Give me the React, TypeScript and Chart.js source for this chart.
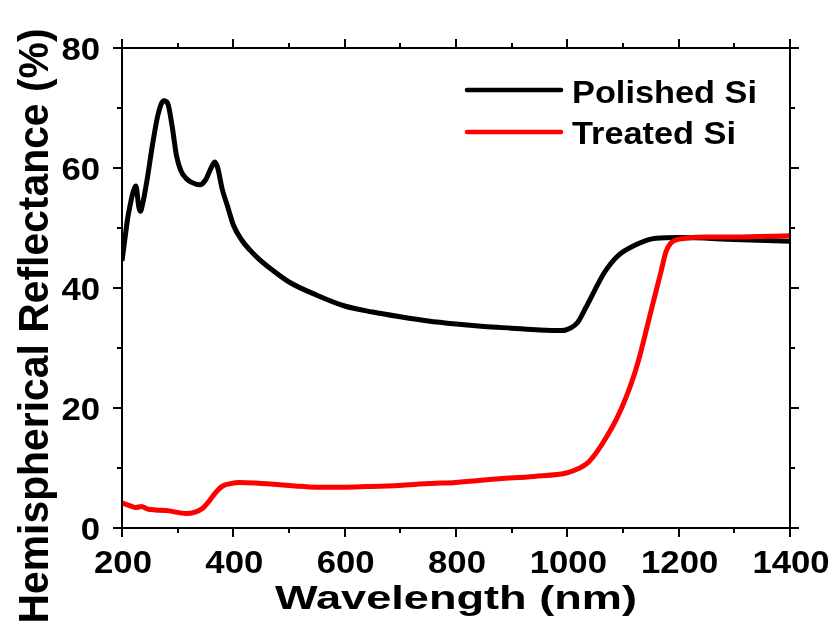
import React, { useEffect, useRef } from "react";
import { Chart, registerables } from "chart.js";

Chart.register(...registerables);

// ---- Data ----
const polishedWavelength = [
  200, 205, 210, 215, 220, 225, 230, 233, 237, 245, 255, 265, 275, 282, 290, 298,
  306, 315, 325, 340, 350, 360, 367, 372, 380, 390, 400, 415, 430, 445, 470, 500,
  550, 600, 650, 700, 750, 800, 850, 900, 950, 990, 1005, 1018, 1033, 1048, 1066,
  1090, 1123, 1159, 1200, 1300, 1400,
];
const polishedReflectance = [
  44.5, 48, 51.5, 54, 56, 57, 53.6, 52.8, 54, 58, 64, 69, 71.2, 70.8, 67, 62,
  59.5, 58.3, 57.6, 57.2, 58, 60, 61, 60, 56.5, 53.5, 50.5, 48, 46.3, 44.9, 43, 41,
  38.8, 37, 36, 35.2, 34.5, 34.0, 33.6, 33.3, 33.0, 32.9, 33.3, 34.2, 36.7, 39.4, 42.5,
  45.3, 47.2, 48.3, 48.4, 48.1, 47.8,
];

const treatedWavelength = [
  200, 215, 225, 235, 245, 260, 280, 300, 316, 330, 345, 355, 363, 372, 381, 395,
  411, 440, 471, 510, 549, 600, 639, 698, 750, 800, 878, 940, 1000, 1020, 1036, 1050,
  1064, 1088, 1106, 1121, 1133, 1145, 1157, 1169, 1177, 1185, 1195, 1213, 1250, 1300,
  1400,
];
const treatedReflectance = [
  4.2, 3.7, 3.4, 3.6, 3.2, 3.0, 2.9, 2.6, 2.4, 2.6, 3.3, 4.3, 5.3, 6.3, 7.0, 7.4,
  7.6, 7.5, 7.3, 7.0, 6.8, 6.8, 6.9, 7.1, 7.4, 7.6, 8.2, 8.6, 9.2, 9.9, 10.8, 12.3,
  14.2, 18.1, 21.9, 25.8, 29.7, 34.2, 38.6, 43.0, 46.0, 47.4, 48.0, 48.3, 48.5, 48.5,
  48.7,
];

const seriesNames = ["Polished Si", "Treated Si"];
const seriesColors = ["#000000", "#ff0000"];

const xMajorTicks = [200, 400, 600, 800, 1000, 1200, 1400];
const xMinorTicks = [300, 500, 700, 900, 1100, 1300];
const yMajorTicks = [0, 20, 40, 60, 80];
const yMinorTicks = [10, 30, 50, 70];

const xTitle = "Wavelength (nm)";
const yTitle = "Hemispherical Reflectance (%)";

const FONT = "'Liberation Sans', Arial, sans-serif";

function fillStretched(
  ctx: CanvasRenderingContext2D,
  text: string,
  x: number,
  y: number,
  align: CanvasTextAlign,
  sx: number
) {
  ctx.save();
  ctx.translate(x, y);
  ctx.scale(sx, 1);
  ctx.textAlign = align;
  ctx.fillText(text, 0, 0);
  ctx.restore();
}

const framePlugin = {
  id: "framePlugin",
  afterDraw(chart: any) {
    const ctx: CanvasRenderingContext2D = chart.ctx;
    const { left, right, top, bottom } = chart.chartArea;
    const xs = chart.scales.x;
    const ys = chart.scales.y;
    ctx.save();
    ctx.strokeStyle = "#000";
    ctx.fillStyle = "#000";
    ctx.lineWidth = 2;
    ctx.lineCap = "butt";
    ctx.strokeRect(left, top, right - left, bottom - top);

    const major = 9;
    const minor = 5;
    ctx.beginPath();
    const xt = (v: number, len: number) => {
      const p = Math.round(xs.getPixelForValue(v));
      ctx.moveTo(p, bottom);
      ctx.lineTo(p, bottom + len);
      ctx.moveTo(p, top);
      ctx.lineTo(p, top - len);
    };
    const yt = (v: number, len: number) => {
      const p = Math.round(ys.getPixelForValue(v));
      ctx.moveTo(left, p);
      ctx.lineTo(left - len, p);
      ctx.moveTo(right, p);
      ctx.lineTo(right + len, p);
    };
    xMajorTicks.forEach((v) => xt(v, major));
    xMinorTicks.forEach((v) => xt(v, minor));
    yMajorTicks.forEach((v) => yt(v, major));
    yMinorTicks.forEach((v) => yt(v, minor));
    ctx.stroke();

    ctx.textBaseline = "alphabetic";

    // tick labels
    ctx.font = `bold 31px ${FONT}`;
    const tickStretch = 1.12;
    xMajorTicks.forEach((v) => {
      const p = xs.getPixelForValue(v);
      fillStretched(ctx, String(v), p + 1, 573, "center", tickStretch);
    });
    yMajorTicks.forEach((v) => {
      const p = ys.getPixelForValue(v);
      fillStretched(ctx, String(v), 100, p + 11.5, "right", tickStretch);
    });

    // x title
    ctx.font = `bold 34px ${FONT}`;
    const xw = ctx.measureText(xTitle).width;
    fillStretched(ctx, xTitle, 275, 609, "left", 362 / xw);

    // y title
    ctx.save();
    ctx.translate(48, 326);
    ctx.rotate(-Math.PI / 2);
    ctx.font = `bold 43px ${FONT}`;
    const yw = ctx.measureText(yTitle).width;
    fillStretched(ctx, yTitle, 0, 0, "center", 595 / yw);
    ctx.restore();

    // legend
    const legendY = [90, 132];
    const legendBase = [102.5, 143.5];
    seriesNames.forEach((name, i) => {
      ctx.beginPath();
      ctx.strokeStyle = seriesColors[i];
      ctx.lineWidth = 4.5;
      ctx.lineCap = "round";
      ctx.moveTo(467, legendY[i]);
      ctx.lineTo(561, legendY[i]);
      ctx.stroke();
    });
    ctx.font = `bold 31px ${FONT}`;
    const lw = ctx.measureText(seriesNames[0]).width;
    const ls = 185 / lw;
    seriesNames.forEach((name, i) => {
      fillStretched(ctx, name, 572, legendBase[i], "left", ls);
    });
    ctx.restore();
  },
};

export default function App() {
  const ref = useRef<HTMLCanvasElement | null>(null);

  useEffect(() => {
    if (!ref.current) return;
    const chart = new Chart(ref.current, {
      type: "line",
      data: {
        datasets: [
          {
            label: seriesNames[0],
            data: polishedWavelength.map((x, i) => ({ x, y: polishedReflectance[i] })),
            borderColor: seriesColors[0],
            borderWidth: 5,
            pointRadius: 0,
            cubicInterpolationMode: "monotone",
            order: 1,
          },
          {
            label: seriesNames[1],
            data: treatedWavelength.map((x, i) => ({ x, y: treatedReflectance[i] })),
            borderColor: seriesColors[1],
            borderWidth: 5,
            pointRadius: 0,
            cubicInterpolationMode: "monotone",
            order: 0,
          },
        ],
      },
      options: {
        animation: false,
        responsive: true,
        maintainAspectRatio: false,
        layout: { padding: { left: 122, top: 48, right: 43, bottom: 99 } },
        plugins: { legend: { display: false }, tooltip: { enabled: false } },
        scales: {
          x: { type: "linear", min: 200, max: 1400, display: false },
          y: { type: "linear", min: 0, max: 80, display: false },
        },
      },
      plugins: [framePlugin],
    });
    return () => chart.destroy();
  }, []);

  return (
    <div style={{ position: "fixed", left: 0, top: 0, width: 833, height: 627, background: "#fff" }}>
      <canvas ref={ref} />
    </div>
  );
}
